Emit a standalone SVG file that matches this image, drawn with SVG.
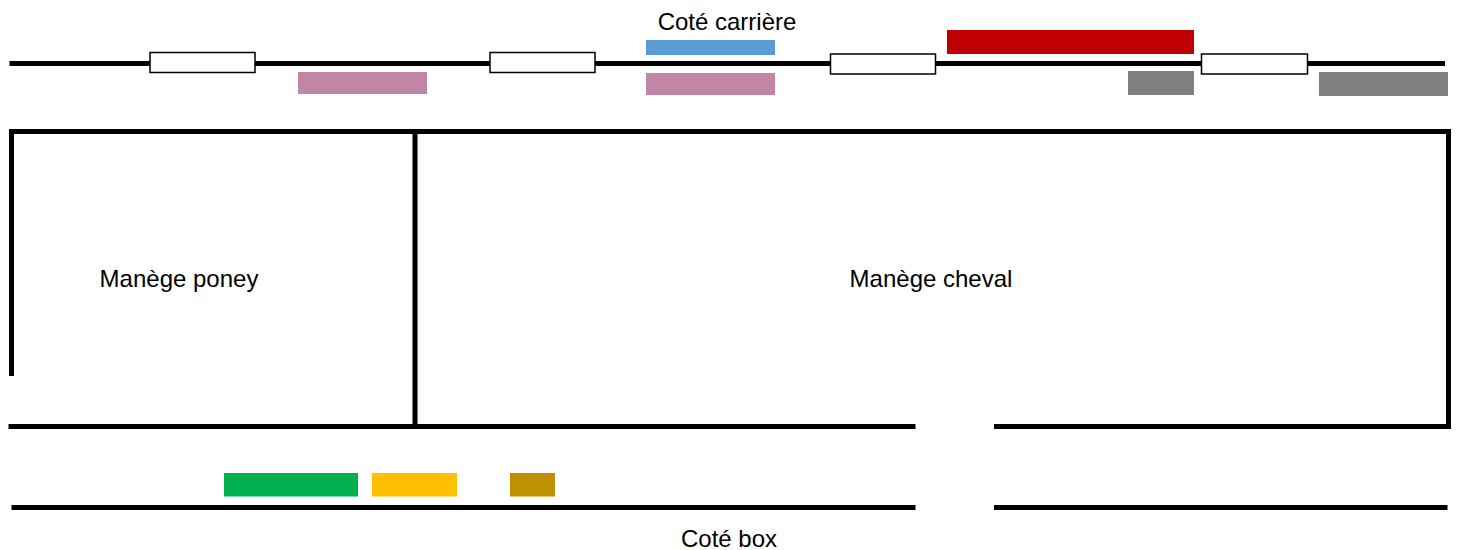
<svg xmlns="http://www.w3.org/2000/svg" width="1459" height="550" viewBox="0 0 1459 550">
  <style>
    .wall { fill: none; stroke: #000; stroke-width: 5; stroke-linejoin: miter; stroke-linecap: butt; }
    .door { fill: #fff; stroke: #000; stroke-width: 1.5; }
    .lbl { font-family: "Liberation Sans", Arial, sans-serif; font-size: 24px; fill: #000; text-anchor: middle; }
  </style>
  <rect width="1459" height="550" fill="#fff"/>

  <g id="walls">
    <path class="wall" d="M9.5,63.5 H1445"/>
    <path class="wall" d="M11.5,376 V131.5 H1448.5 V426.5 H994"/>
    <path class="wall" d="M8.5,426.5 H915.5"/>
    <path class="wall" d="M415,131.5 V426.5"/>
    <path class="wall" d="M11.5,507.5 H915.5"/>
    <path class="wall" d="M994,507.5 H1447.5"/>
  </g>

  <g id="doors">
    <rect id="door1" class="door" x="150" y="52.5" width="105" height="20"/>
    <rect id="door2" class="door" x="490" y="52.5" width="105" height="20"/>
    <rect id="door3" class="door" x="830.5" y="54" width="105" height="20"/>
    <rect id="door4" class="door" x="1201.5" y="54" width="106" height="20"/>
  </g>

  <g id="pink1"><rect x="298" y="72" width="129" height="22" fill="#C285A5"/></g>
  <g id="blue"><rect x="646" y="40" width="129" height="15" fill="#5B9BD5"/></g>
  <g id="pink2"><rect x="646" y="73" width="129" height="22" fill="#C285A5"/></g>
  <g id="red"><rect x="947" y="30" width="247" height="24" fill="#C00000"/></g>
  <g id="gray1"><rect x="1128" y="71" width="66" height="24" fill="#808080"/></g>
  <g id="gray2"><rect x="1319" y="72" width="129" height="24" fill="#808080"/></g>
  <g id="green"><rect x="224" y="473" width="134" height="23.5" fill="#00B050"/></g>
  <g id="yellow"><rect x="372" y="473" width="85" height="23.5" fill="#FFC000"/></g>
  <g id="gold"><rect x="510" y="473" width="45" height="23.5" fill="#BF9000"/></g>

  <g id="labels">
    <text class="lbl" x="727" y="29.5">Coté carrière</text>
    <text class="lbl" x="179" y="287">Manège poney</text>
    <text class="lbl" x="931" y="287">Manège cheval</text>
    <text class="lbl" x="729" y="547">Coté box</text>
  </g>
</svg>
